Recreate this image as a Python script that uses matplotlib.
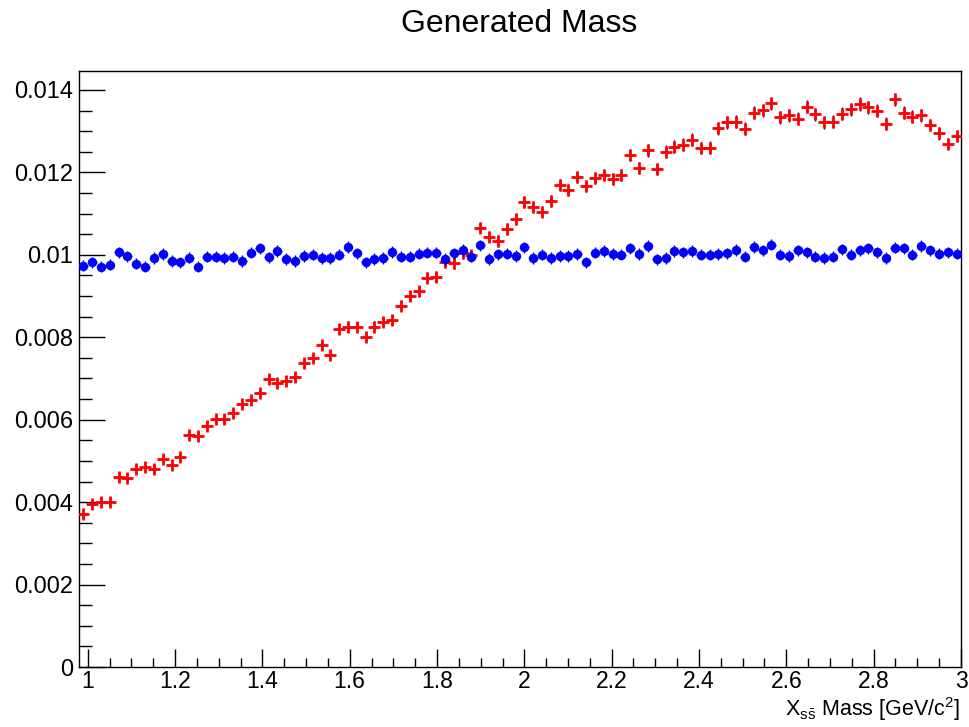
import matplotlib
matplotlib.use("Agg")
import matplotlib.pyplot as plt
import numpy as np
from matplotlib.ticker import MultipleLocator, FormatStrFormatter

plt.rcParams['font.family'] = ['Liberation Sans', 'DejaVu Sans']
plt.rcParams['mathtext.fontset'] = 'custom'
plt.rcParams['mathtext.rm'] = 'Liberation Sans'
plt.rcParams['mathtext.it'] = 'Liberation Sans'

# histogram binning
x_min, x_max, n_bins = 0.98, 3.0, 100
n_entries = 5.35e5  # used for the sqrt(N) error bars

# flat generated sample (blue)
blue_vals = [
    0.00974, 0.00982, 0.00971, 0.00976, 0.01006, 0.00996, 0.00978, 0.00971, 0.00992, 0.01002,
    0.00985, 0.00982, 0.00993, 0.00971, 0.00995, 0.00995, 0.00992, 0.00995, 0.00985, 0.01005,
    0.01016, 0.00994, 0.01009, 0.00990, 0.00985, 0.00997, 0.01000, 0.00992, 0.00992, 0.01000,
    0.01019, 0.01004, 0.00982, 0.00990, 0.00992, 0.01007, 0.00995, 0.00995, 0.01003, 0.01005,
    0.01005, 0.00990, 0.01004, 0.01012, 0.00995, 0.01023, 0.00990, 0.01001, 0.01003, 0.00997,
    0.01018, 0.00992, 0.01000, 0.00992, 0.00997, 0.00997, 0.01002, 0.00982, 0.01005, 0.01009,
    0.01002, 0.01000, 0.01016, 0.01002, 0.01021, 0.00989, 0.00992, 0.01009, 0.01006, 0.01009,
    0.01000, 0.01000, 0.01002, 0.01004, 0.01012, 0.00995, 0.01019, 0.01011, 0.01025, 0.01000,
    0.00997, 0.01011, 0.01006, 0.00995, 0.00992, 0.00995, 0.01013, 0.01000, 0.01011, 0.01016,
    0.01006, 0.00992, 0.01017, 0.01016, 0.01000, 0.01021, 0.01011, 0.01003, 0.01006, 0.01003,
]

# weighted sample (red)
red_vals = [
    0.003704, 0.003947, 0.004012, 0.004012, 0.004618, 0.004594, 0.004796, 0.004845, 0.004796, 0.005055,
    0.004893, 0.005087, 0.005629, 0.005597, 0.005856, 0.006009, 0.006009, 0.006171, 0.006381, 0.006478,
    0.006640, 0.006980, 0.006899, 0.006948, 0.007045, 0.007368, 0.007506, 0.007805, 0.007570, 0.008201,
    0.008258, 0.008242, 0.008015, 0.008258, 0.008371, 0.008419, 0.008767, 0.009002, 0.009115, 0.009446,
    0.009470, 0.009819, 0.009795, 0.010038, 0.009990, 0.010660, 0.010440, 0.010340, 0.010630, 0.010870,
    0.011290, 0.011160, 0.011050, 0.011310, 0.011700, 0.011570, 0.011880, 0.011670, 0.011860, 0.011940,
    0.011835, 0.011940, 0.012420, 0.012110, 0.012535, 0.012080, 0.012500, 0.012620, 0.012670, 0.012790,
    0.012590, 0.012600, 0.013070, 0.013210, 0.013230, 0.013060, 0.013450, 0.013510, 0.013680, 0.013340,
    0.013390, 0.013300, 0.013590, 0.013410, 0.013210, 0.013230, 0.013420, 0.013530, 0.013660, 0.013580,
    0.013490, 0.013180, 0.013770, 0.013450, 0.013350, 0.013390, 0.013150, 0.012950, 0.012690, 0.012880,
]

edges = np.linspace(x_min, x_max, n_bins + 1)
centers = 0.5 * (edges[:-1] + edges[1:])
half_w = 0.5 * (edges[1] - edges[0])

blue = np.array(blue_vals)
red = np.array(red_vals)
blue_err = np.sqrt(blue / n_entries)
red_err = np.sqrt(red / n_entries)

fig = plt.figure(figsize=(9.7, 7.27), dpi=100)
ax = fig.add_axes([0.0814, 0.0825, 0.9093, 0.8198])

ax.errorbar(centers, red, yerr=red_err, xerr=half_w, fmt='+', color='#ff0000',
            ecolor='#000099', elinewidth=1.0, markersize=9, markeredgewidth=2.0,
            capsize=0, zorder=3)
ax.errorbar(centers, blue, yerr=blue_err, xerr=half_w, fmt='o', color='#0000ff',
            ecolor='#000099', elinewidth=1.0, markersize=6.8, markeredgewidth=0,
            capsize=0, zorder=4)

ax.set_xlim(x_min, x_max)
ax.set_ylim(0, red.max() * 1.05)

ax.xaxis.set_major_locator(MultipleLocator(0.2))
ax.xaxis.set_minor_locator(MultipleLocator(0.05))
ax.yaxis.set_major_locator(MultipleLocator(0.002))
ax.yaxis.set_minor_locator(MultipleLocator(0.0005))
ax.xaxis.set_major_formatter(FormatStrFormatter('%g'))
ax.yaxis.set_major_formatter(FormatStrFormatter('%g'))

ax.tick_params(axis='both', which='both', direction='in', top=False, right=False,
               labelsize=17, width=1, color='black')
ax.tick_params(axis='y', which='major', length=18.7, pad=4)
ax.tick_params(axis='y', which='minor', length=9.0)
ax.tick_params(axis='x', labelsize=16.5)
ax.tick_params(axis='x', which='major', length=12.9, pad=2)
ax.tick_params(axis='x', which='minor', length=6.5)

for sp in ax.spines.values():
    sp.set_linewidth(1.0)

fig.text(0.5356, 0.967, 'Generated Mass', ha='center', va='center', fontsize=23)
fig.text(960 / 970, 1 - 716 / 727, r'X$_{s\bar{s}}$ Mass [GeV/c$^{2}$]',
         ha='right', va='baseline', fontsize=15.5)

fig.savefig('out.png', dpi=100)
